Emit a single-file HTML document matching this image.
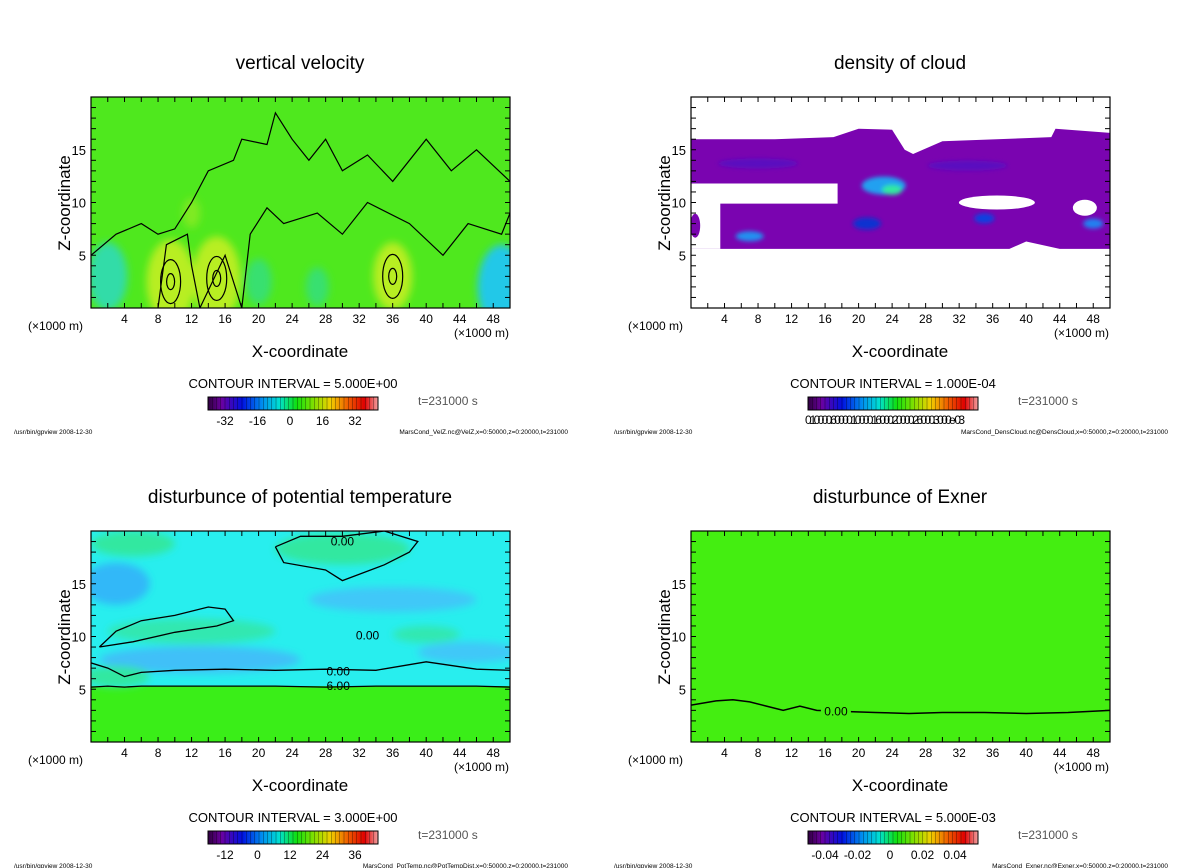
<!DOCTYPE html>
<html><head><meta charset="utf-8"><style>
body{margin:0;background:#fff;}
svg{display:block;font-family:"Liberation Sans",sans-serif;}
</style></head><body>
<svg id="fig" width="1200" height="868" viewBox="0 0 1200 868" xmlns="http://www.w3.org/2000/svg">
<defs>
<filter id="blur4" x="-50%" y="-50%" width="200%" height="200%"><feGaussianBlur stdDeviation="4"/></filter>
<filter id="blur2" x="-50%" y="-50%" width="200%" height="200%"><feGaussianBlur stdDeviation="2"/></filter>
<linearGradient id="rainbow" x1="0" x2="1" y1="0" y2="0">
<stop offset="0" stop-color="#300040"/><stop offset="0.08" stop-color="#6a00a0"/><stop offset="0.2" stop-color="#0010e0"/>
<stop offset="0.32" stop-color="#0090f0"/><stop offset="0.42" stop-color="#00e0d0"/><stop offset="0.52" stop-color="#10e010"/>
<stop offset="0.62" stop-color="#80e000"/><stop offset="0.72" stop-color="#f0d000"/><stop offset="0.82" stop-color="#f06000"/>
<stop offset="0.92" stop-color="#e00000"/><stop offset="1" stop-color="#f0a0a0"/></linearGradient>
</defs>
</svg>
<script>
// ---- data arrays ----
const xTicks = [4,8,12,16,20,24,28,32,36,40,44,48];
const zTicks = [5,10,15];
const titles = ["vertical velocity","density of cloud","disturbunce of potential temperature","disturbunce of Exner"];
const intervals = ["CONTOUR INTERVAL = 5.000E+00","CONTOUR INTERVAL = 1.000E-04","CONTOUR INTERVAL = 3.000E+00","CONTOUR INTERVAL = 5.000E-03"];
const cbLabels1 = ["-32","-16","0","16","32"];
const cbLabels3 = ["-12","0","12","24","36"];
const cbLabels4 = ["-0.04","-0.02","0","0.02","0.04"];
const footRight = ["MarsCond_VelZ.nc@VelZ,x=0:50000,z=0:20000,t=231000","MarsCond_DensCloud.nc@DensCloud,x=0:50000,z=0:20000,t=231000","MarsCond_PotTemp.nc@PotTempDist,x=0:50000,z=0:20000,t=231000","MarsCond_Exner.nc@Exner,x=0:50000,z=0:20000,t=231000"];
// velocity blobs
const velX = [9.5,15,36,2,20,49,27,12];
const velZ = [2.5,2.8,3,3,2.5,2,2,9];
const velV = [2,2,1.5,-1.5,-0.8,-2,-0.6,0.3];
// exner contour
const exX = [0,3,5,7,9,11,13,15,18,22,26,30,35,40,45,50];
const exZ = [3.5,3.9,4.0,3.8,3.4,3.0,3.4,3.0,2.9,2.8,2.7,2.8,2.8,2.7,2.8,3.0];
// pot temp contours
const ptX = [0,2,4,6,10,16,22,28,34,40,46,50];
const pt0Z = [7.5,7,6.2,6.6,6.8,6.9,6.8,6.9,6.8,7.6,6.9,6.8];
const pt6Z = [5.2,5.3,5.2,5.3,5.3,5.3,5.3,5.2,5.3,5.3,5.3,5.2];
// cloud outline (outer) and holes
const cloudX = [0,10,17,20,24,25.5,26.5,30,40,43,43.5,50,50,44,40,38,20,3.5,3.5,0];
const cloudZ = [16,16,16.2,17,16.9,15,14.6,15.8,16.1,16.2,17,16.6,5.6,5.6,6.3,5.6,5.6,5.6,5.6,5.6];
const holeX = [0,17.5,17.5,3.5,3.5,0];
const holeZ = [11.8,11.8,9.9,9.9,5.6,5.6];

const NS="http://www.w3.org/2000/svg", svg=document.getElementById('fig');
function el(tag,attrs,parent,txt){const e=document.createElementNS(NS,tag);for(const k in attrs)e.setAttribute(k,attrs[k]);if(txt!==undefined)e.textContent=txt;(parent||svg).appendChild(e);return e;}
const PX0=91,PX1=510,PY0=97,PY1=308;
function sx(ox,v){return ox+PX0+(PX1-PX0)*v/50;}
function sz(oy,v){return oy+PY1-(PY1-PY0)*v/20;}

function frame(i,ox,oy,cb){
  const g=el('g',{});
  
  
  const t=el('text',{x:ox+300,y:oy+69,'text-anchor':'middle','font-size':19,fill:'#000'},g,titles[i]);
  
  el('rect',{x:ox+PX0,y:oy+PY0,width:PX1-PX0,height:PY1-PY0,fill:'none',stroke:'#000','stroke-width':1.2},g);
  for(let v=2;v<50;v+=2){const x=sx(ox,v);el('line',{x1:x,x2:x,y1:oy+PY1,y2:oy+PY1-5,stroke:'#000'},g);el('line',{x1:x,x2:x,y1:oy+PY0,y2:oy+PY0+5,stroke:'#000'},g);}
  for(let v=1;v<20;v++){const y=sz(oy,v);el('line',{x1:ox+PX0,x2:ox+PX0+5,y1:y,y2:y,stroke:'#000'},g);el('line',{x1:ox+PX1,x2:ox+PX1-5,y1:y,y2:y,stroke:'#000'},g);}
  xTicks.forEach(v=>{const tt=el('text',{x:sx(ox,v),y:oy+323,'text-anchor':'middle','font-size':12},g,String(v));});
  zTicks.forEach(v=>{const tt=el('text',{x:ox+86,y:sz(oy,v)+5,'text-anchor':'end','font-size':13},g,String(v));});
  const yl=el('text',{x:0,y:0,transform:`translate(${ox+70},${oy+203}) rotate(-90)`,'text-anchor':'middle','font-size':17},g,'Z-coordinate');
  
  const u1=el('text',{x:ox+28,y:oy+330,'font-size':12},g,'(×1000 m)');
  const u2=el('text',{x:ox+454,y:oy+337,'font-size':12},g,'(×1000 m)');
  const xl=el('text',{x:ox+300,y:oy+357,'text-anchor':'middle','font-size':17},g,'X-coordinate');
  
  const ci=el('text',{x:ox+293,y:oy+388,'text-anchor':'middle','font-size':13},g,intervals[i]);
  
  const cbr=el('rect',{x:ox+208,y:oy+397,width:170,height:13,fill:'url(#rainbow)',stroke:'#000'},g);
  
  for(let k=1;k<40;k++){const x=ox+208+k*170/40;el('line',{x1:x,x2:x,y1:oy+397,y2:oy+410,stroke:'#000','stroke-width':0.5,opacity:0.6},g);}
  if(cb){cb.forEach((s,k)=>{const tt=el('text',{x:ox+225+k*(130/(cb.length-1)),y:oy+425,'text-anchor':'middle','font-size':12},g,s);});}
  else{const tt=el('text',{x:ox+285,y:oy+424,'text-anchor':'middle','font-size':12,textLength:160},g,'0.10000.60000.10000.16000.20000.26000.3000e-03');}
  const tm=el('text',{x:ox+418,y:oy+405,'font-size':12,fill:'#555'},g,'t=231000 s');
  const f1=el('text',{x:ox+14,y:oy+434,'font-size':6.5},g,'/usr/bin/gpview  2008-12-30');
  const f2=el('text',{x:ox+568,y:oy+434,'font-size':6.5,'text-anchor':'end'},g,footRight[i]);
  return g;
}
function clip(id,ox,oy){const c=el('clipPath',{id:id});el('rect',{x:ox+PX0,y:oy+PY0,width:PX1-PX0,height:PY1-PY0},c);return 'url(#'+id+')';}
function linePath(ox,oy,xs,zs){return xs.map((x,k)=>(k?'L':'M')+sx(ox,x).toFixed(1)+','+sz(oy,zs[k]).toFixed(1)).join(' ');}

// Panel 1
(function(){const ox=0,oy=0;const g=el('g',{'clip-path':clip('c1',ox,oy)});

el('rect',{x:ox+PX0,y:oy+PY0,width:PX1-PX0,height:PY1-PY0,fill:'#4fe81e'},g);
const bg=el('g',{filter:'url(#blur4)'},g);
velX.forEach((x,k)=>{const v=velV[k];const c=v>1.2?'#b8ee20':v>0?'#80ea20':v>-1?'#38e070':v>-1.8?'#30dca8':'#20c8e8';
 const b=el('ellipse',{cx:sx(ox,x),cy:sz(oy,velZ[k]),rx:Math.abs(v)*9+6,ry:Math.abs(v)*16+10,fill:c},bg);});
const cl=el('g',{fill:'none',stroke:'#000','stroke-width':1.2},g);
[[9.5,2.5],[15,2.8],[36,3]].forEach(p=>{el('ellipse',{cx:sx(ox,p[0]),cy:sz(oy,p[1]),rx:10,ry:22},cl);el('ellipse',{cx:sx(ox,p[0]),cy:sz(oy,p[1]),rx:4,ry:8},cl);});
el('path',{d:linePath(ox,oy,[0,3,6,8,10,12,14,17,18,21,22,24,26,28,30,33,36,40,43,46,50],[5,7,8,7,7.5,10,13,14,16,15.5,18.5,16,14,16,13,14.5,12,16,13,15,12])},cl);
el('path',{d:linePath(ox,oy,[8,9,11.5,12,13,16,18,19,21,23,27,30,33,38,42,45,49,50],[0,6,7,4,0,5,0,7,9.5,8,9,7,10,8,5,8,7,9])},cl);
})();
frame(0,0,0,cbLabels1);

// Panel 2
(function(){const ox=600,oy=0;const g=el('g',{'clip-path':clip('c2',ox,oy)});

const P=(xs,zs)=>xs.map((x,k)=>sx(ox,x).toFixed(1)+','+sz(oy,zs[k]).toFixed(1)).join(' ');
const c=el('polygon',{points:P(cloudX,cloudZ),fill:'#7a04b0'},g);
el('polygon',{points:P(holeX,holeZ),fill:'#fff'},g);
el('ellipse',{cx:sx(ox,36.5),cy:sz(oy,10),rx:38,ry:7,fill:'#fff'},g);
el('ellipse',{cx:sx(ox,47),cy:sz(oy,9.5),rx:12,ry:8,fill:'#fff'},g);
el('ellipse',{cx:sx(ox,0.5),cy:sz(oy,7.8),rx:5,ry:12,fill:'#7a04b0'},g);
const bl=el('g',{filter:'url(#blur2)'},g);
[[23,11.6,22,9,'#20a0f0'],[24,11.2,10,5,'#30e8a0'],[21,8,14,6,'#1030d0'],[7,6.8,14,5,'#2090f0'],[35,8.5,10,5,'#1040e0'],[48,8,10,5,'#2080f0'],[8,13.7,40,5,'#5a10c0'],[33,13.5,40,5,'#5a10c0']].forEach(b=>{
 const e=el('ellipse',{cx:sx(ox,b[0]),cy:sz(oy,b[1]),rx:b[2],ry:b[3],fill:b[4]},bl);});
})();
frame(1,600,0,null);

// Panel 3
(function(){const ox=0,oy=434;const g=el('g',{'clip-path':clip('c3',ox,oy)});

el('rect',{x:ox+PX0,y:oy+PY0,width:PX1-PX0,height:PY1-PY0,fill:'#28eeee'},g);
el('rect',{x:ox+PX0,y:sz(oy,5.3),width:PX1-PX0,height:sz(oy,0)-sz(oy,5.3),fill:'#3aee18'},g);
const bl=el('g',{filter:'url(#blur4)'},g);
[[3,15,4,2,'#30b8f8'],[13,7.8,12,1.3,'#40c0f8'],[36,13.5,10,1.2,'#40c8f8'],[30,18.3,8,1.5,'#30e8a0'],[5,18.8,5,1.2,'#30e8a0'],[12,10.5,10,1.2,'#30e8b0'],[40,10.2,4,0.8,'#30e8b0'],[3,6.2,4,1,'#30e8a0'],[45,8.5,6,1,'#40c8f8']].forEach(b=>{
 const e=el('ellipse',{cx:sx(ox,b[0]),cy:sz(oy,b[1]),rx:b[2]*8.4,ry:b[3]*10.5,fill:b[4]},bl);});
const cl=el('g',{fill:'none',stroke:'#000','stroke-width':1.3},g);
el('path',{d:linePath(ox,oy,ptX,pt0Z)},cl);
el('path',{d:linePath(ox,oy,ptX,pt6Z)},cl);
el('path',{d:linePath(ox,oy,[22,23,28,30,35,38,39,35,30,25,22],[18.5,17,16.3,15.3,16.8,18,19,20,19.5,19.5,18.5])},cl);
el('path',{d:linePath(ox,oy,[1,3,6,10,14,16,17,15,10,5,1],[9,10.5,11.5,12,12.8,12.6,11.5,11,10.4,9.5,9])},cl);
el('text',{x:sx(ox,29.5),y:sz(oy,6.7)+4,'font-size':12,'text-anchor':'middle'},g,'0.00');
el('text',{x:sx(ox,29.5),y:sz(oy,5.3)+4,'font-size':12,'text-anchor':'middle'},g,'6.00');
el('text',{x:sx(ox,33),y:sz(oy,10.1)+4,'font-size':12,'text-anchor':'middle'},g,'0.00');
el('text',{x:sx(ox,30),y:sz(oy,19)+4,'font-size':12,'text-anchor':'middle'},g,'0.00');
})();
frame(2,0,434,cbLabels3);

// Panel 4
(function(){const ox=600,oy=434;const g=el('g',{'clip-path':clip('c4',ox,oy)});

el('rect',{x:ox+PX0,y:oy+PY0,width:PX1-PX0,height:PY1-PY0,fill:'#44ee11'},g);
const p=el('path',{d:linePath(ox,oy,exX,exZ),fill:'none',stroke:'#000','stroke-width':1.5},g);

el('rect',{x:sx(ox,15.5),y:sz(oy,2.9)-7,width:30,height:14,fill:'#44ee11'},g);
el('text',{x:sx(ox,17.3),y:sz(oy,2.9)+4,'font-size':12,'text-anchor':'middle'},g,'0.00');
})();
frame(3,600,434,cbLabels4);
</script>
</body></html>
